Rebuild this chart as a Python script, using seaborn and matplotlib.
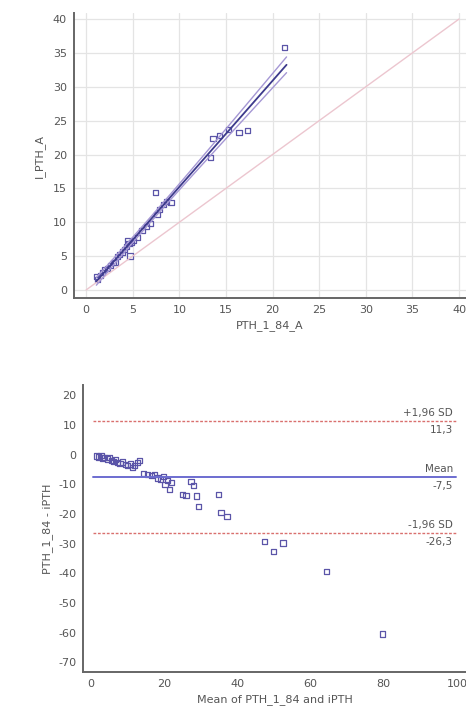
import numpy as np
import pandas as pd
import matplotlib
matplotlib.use("Agg")
import matplotlib.pyplot as plt
from matplotlib.ticker import MultipleLocator
import seaborn as sns

# Method comparison: PTH 1-84 assay vs intact PTH
pth_1_84_a = [1.1, 1.2, 1.5, 1.8, 2.0, 2.3, 2.6, 2.9, 3.1, 3.4, 3.6, 3.9, 4.1, 4.3,
              4.4, 4.6, 4.7, 4.9, 5.1, 5.5, 6.0, 6.5, 6.9, 7.6, 7.9, 8.3, 8.6, 9.1,
              7.4, 13.3, 13.6, 14.3, 15.3, 16.4, 17.3, 21.3]
i_pth_a = [2.0, 1.5, 2.1, 2.6, 3.0, 3.2, 3.6, 4.1, 4.0, 4.9, 5.2, 5.6, 6.0, 6.4,
           7.3, 6.8, 5.0, 7.0, 7.3, 7.8, 8.8, 9.4, 9.8, 11.2, 11.9, 12.6, 13.1, 12.9,
           14.4, 19.6, 22.4, 22.8, 23.7, 23.3, 23.6, 35.8]

# Bland-Altman: mean of the two methods and their difference
ba_mean = [1.5, 2.2, 2.8, 3.3, 3.8, 4.5, 5.0, 5.6, 6.2, 6.8, 7.4, 8.0, 8.7, 9.4,
           10.1, 10.8, 11.3, 12.0, 12.7, 13.4, 14.4, 15.5, 16.5, 17.4, 18.3, 19.1,
           19.8, 20.3, 20.9, 21.6, 22.0, 25.0, 26.0, 27.4, 28.0, 28.9, 29.5, 34.8,
           35.6, 37.2, 47.5, 50.0, 52.5, 64.3, 79.6]
ba_diff = [-0.5, -0.8, -0.3, -1.2, -0.9, -1.5, -1.1, -1.9, -2.4, -1.8, -2.7, -3.0,
           -2.5, -3.4, -3.8, -3.2, -4.5, -3.6, -2.6, -2.1, -6.3, -6.8, -7.2, -6.6,
           -7.9, -8.5, -7.4, -10.0, -8.8, -11.8, -9.3, -13.6, -13.8, -9.0, -10.5,
           -14.0, -17.5, -13.5, -19.6, -20.8, -29.2, -32.8, -29.8, -39.3, -60.5]

# Agreement limits as reported
limit_names = ["+1,96 SD", "Mean", "-1,96 SD"]
limit_values = [11.3, -7.5, -26.3]
limit_texts = ["11,3", "-7,5", "-26,3"]

sns.set_style("white")
plt.rcParams["font.family"] = ["DejaVu Sans"]
plt.rcParams["axes.unicode_minus"] = False

point_col = "#5b55a8"
text_col = "#555555"
spine_col = "#666666"

fig = plt.figure(figsize=(4.66, 7.2), dpi=100)

def style_axes(ax):
    for s in ["top", "right"]:
        ax.spines[s].set_visible(False)
    for s in ["left", "bottom"]:
        ax.spines[s].set_color(spine_col)
        ax.spines[s].set_linewidth(1.4)
    ax.tick_params(direction="in", length=4, width=1, colors=spine_col,
                   labelcolor=text_col, labelsize=8, pad=5)
    ax.tick_params(which="minor", direction="in", length=2.5, width=0.8, colors=spine_col)

# ---- Scatter with regression line ----
ax1 = fig.add_axes([0.1588, 0.586, 0.8412, 0.396])
df1 = pd.DataFrame({"PTH_1_84_A": pth_1_84_a, "I_PTH_A": i_pth_a})

ax1.grid(True, color="#e4e4e4", linewidth=0.9)
ax1.set_axisbelow(True)

# line of equality
ident = pd.DataFrame({"x": [0, 40], "y": [0, 40]})
sns.lineplot(data=ident, x="x", y="y", ax=ax1, color="#ecc6cf", linewidth=1.0)

# least squares fit and 95% confidence band of the fit
x = np.asarray(pth_1_84_a)
y = np.asarray(i_pth_a)
n = len(x)
slope, intercept = np.polyfit(x, y, 1)
resid = y - (slope * x + intercept)
s = np.sqrt(np.sum(resid ** 2) / (n - 2))
sxx = np.sum((x - x.mean()) ** 2)
xs = np.linspace(x.min(), x.max() + 0.2, 100)
fit = slope * xs + intercept
half = 2.03 * s * np.sqrt(1 / n + (xs - x.mean()) ** 2 / sxx)
fit_df = pd.DataFrame({"x": xs, "fit": fit, "lo": fit - half, "hi": fit + half})
sns.lineplot(data=fit_df, x="x", y="hi", ax=ax1, color="#a597d4", linewidth=1.0)
sns.lineplot(data=fit_df, x="x", y="lo", ax=ax1, color="#a597d4", linewidth=1.0)
sns.lineplot(data=fit_df, x="x", y="fit", ax=ax1, color="#3d3a8c", linewidth=1.3)

sns.scatterplot(data=df1, x="PTH_1_84_A", y="I_PTH_A", ax=ax1, marker="s", s=14,
                facecolor="none", edgecolor=point_col, linewidth=0.9)

ax1.set_xlim(-1.3, 40.75)
ax1.set_ylim(-1.2, 40.9)
ax1.xaxis.set_major_locator(MultipleLocator(5))
ax1.yaxis.set_major_locator(MultipleLocator(5))
ax1.xaxis.set_minor_locator(MultipleLocator(2.5))
ax1.yaxis.set_minor_locator(MultipleLocator(2.5))
style_axes(ax1)
ax1.set_xlabel("PTH_1_84_A", fontsize=8, color=text_col, labelpad=4)
ax1.set_ylabel("I_PTH_A", fontsize=8, color=text_col, labelpad=6)

# ---- Bland-Altman plot ----
ax2 = fig.add_axes([0.179, 0.0667, 0.821, 0.398])
df2 = pd.DataFrame({"mean": ba_mean, "diff": ba_diff})

lim_styles = [dict(color="#d9706e", linestyle=(0, (2, 1.2)), linewidth=1.0),
              dict(color="#6c6cd0", linestyle="-", linewidth=1.4),
              dict(color="#d9706e", linestyle=(0, (2, 1.2)), linewidth=1.0)]
for name, val, txt, st in zip(limit_names, limit_values, limit_texts, lim_styles):
    ax2.axhline(val, xmin=0.026, xmax=0.975, **st)
    ax2.annotate(name, xy=(1.0, val), xycoords=("axes fraction", "data"),
                 xytext=(-9.5, 2), textcoords="offset points", ha="right", va="bottom",
                 fontsize=7.5, color=text_col)
    ax2.annotate(txt, xy=(1.0, val), xycoords=("axes fraction", "data"),
                 xytext=(-9.5, -3), textcoords="offset points", ha="right", va="top",
                 fontsize=7.5, color=text_col)

sns.scatterplot(data=df2, x="mean", y="diff", ax=ax2, marker="s", s=14,
                facecolor="none", edgecolor=point_col, linewidth=0.9)

ax2.set_xlim(-2, 102.5)
ax2.set_ylim(-73.3, 23.3)
ax2.xaxis.set_major_locator(MultipleLocator(20))
ax2.yaxis.set_major_locator(MultipleLocator(10))
ax2.xaxis.set_minor_locator(MultipleLocator(10))
ax2.yaxis.set_minor_locator(MultipleLocator(5))
style_axes(ax2)
ax2.set_xlabel("Mean of PTH_1_84 and iPTH", fontsize=8, color=text_col, labelpad=4)
ax2.set_ylabel("PTH_1_84 - iPTH", fontsize=8, color=text_col, labelpad=4)

fig.savefig("out.png", dpi=100)
